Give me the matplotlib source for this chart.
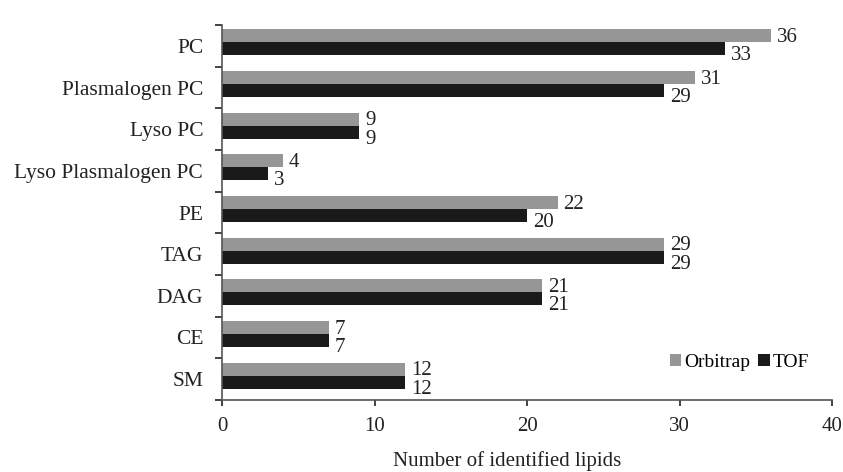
import numpy as np
import matplotlib
matplotlib.use("Agg")
import matplotlib.pyplot as plt

# data
categories = ["PC", "Plasmalogen PC", "Lyso PC", "Lyso Plasmalogen PC",
              "PE", "TAG", "DAG", "CE", "SM"]
orbitrap = [36, 31, 9, 4, 22, 29, 21, 7, 12]
tof = [33, 29, 9, 3, 20, 29, 21, 7, 12]

plt.rcParams["font.family"] = ["Liberation Serif", "DejaVu Serif"]
plt.rcParams["font.size"] = 15

gray = "#969696"
black = "#1a1a1a"
txt = "#222222"

fig = plt.figure(figsize=(8.43, 4.72), dpi=100)
ax = fig.add_axes([222 / 843, 1 - 400 / 472, 610 / 843, 375 / 472])

y = np.arange(len(categories))
h = 0.31
ax.barh(y - 0.24, orbitrap, height=h, color=gray, label="Orbitrap")
ax.barh(y + 0.07, tof, height=h, color=black, label="TOF")

for i in range(len(categories)):
    ax.text(orbitrap[i] + 0.4, y[i] - 0.2, str(orbitrap[i]),
            va="center", ha="left", fontsize=15, color=txt)
    ax.text(tof[i] + 0.4, y[i] + 0.24, str(tof[i]),
            va="center", ha="left", fontsize=15, color=txt)

ax.set_xlim(0, 40)
ax.set_ylim(len(categories) - 0.5, -0.5)
ax.set_xticks([0, 10, 20, 30, 40])
ax.set_yticks(y)
ax.set_yticklabels(categories)
ax.set_yticks(np.arange(-0.5, len(categories), 1), minor=True)

for s in ["top", "right"]:
    ax.spines[s].set_visible(False)
for s in ["left", "bottom"]:
    ax.spines[s].set_color("#555555")
    ax.spines[s].set_linewidth(1.2)

ax.tick_params(axis="y", which="major", length=0, pad=13.5, labelsize=15.5, labelcolor=txt)
ax.tick_params(axis="y", which="minor", length=5, width=1.2, direction="out", color="#222222")
ax.tick_params(axis="x", length=4, width=1.2, direction="out", color="#222222",
               labelsize=15, labelcolor=txt, pad=8)

ax.legend(loc="center left", bbox_to_anchor=(0.715, 0.1), ncol=2, frameon=False,
          handlelength=0.6, handleheight=0.6, handletextpad=0.15, columnspacing=0.4,
          fontsize=14, borderpad=0.1)

fig.text(507 / 843, 1 - 461 / 472, "Number of identified lipids", ha="center", va="center",
         fontsize=15, color=txt)

fig.savefig("out.png", dpi=100)
